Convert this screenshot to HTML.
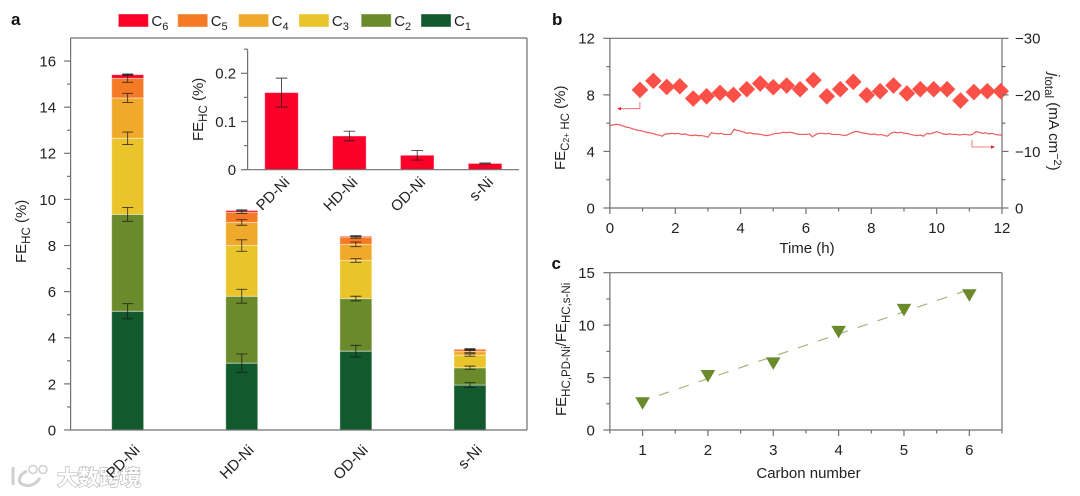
<!DOCTYPE html>
<html lang="en">
<head>
<meta charset="utf-8">
<title>Hydrocarbon Faradaic efficiency charts</title>
<style>
html,body{margin:0;padding:0;background:#fff;width:1080px;height:496px;overflow:hidden}
svg{display:block;filter:blur(0.35px)}
text{font-family:"Liberation Sans","Noto Sans CJK SC",sans-serif;fill:#222;font-size:15px}
.panel{font-weight:bold;font-size:17px;fill:#111}
.wm{font-family:"Liberation Sans","Noto Sans CJK SC",sans-serif;font-weight:bold;font-size:21px;fill:#fff;stroke:#bdbdbd;stroke-width:1.4px;paint-order:stroke}
</style>
</head>
<body>
<svg id="figure" xmlns="http://www.w3.org/2000/svg" width="1080" height="496" viewBox="0 0 1080 496">
  <g id="watermark">
    <path d="M13 467 V485" fill="none" stroke="#d0d0d0" stroke-width="3"/>
    <path d="M27 471 C18 475 17 483 24 485 C30 487 36 484 40 478" fill="none" stroke="#d0d0d0" stroke-width="3"/>
    <circle cx="33" cy="469.5" r="4" fill="none" stroke="#cfcfcf" stroke-width="1.5"/>
    <circle cx="43" cy="469.5" r="4" fill="none" stroke="#cfcfcf" stroke-width="1.5"/>
    <text class="wm" x="57" y="485">大数跨境</text>
  </g>

  <text class="panel" x="11" y="25">a</text>
  <text class="panel" x="552" y="25">b</text>
  <text class="panel" x="551.5" y="269">c</text>

  <text transform="translate(26,263) rotate(-90)">FE<tspan dy="4" font-size="11.5">HC</tspan><tspan dy="-4"> (%)</tspan></text>
  <text transform="translate(203,141) rotate(-90)">FE<tspan dy="4" font-size="11.5">HC</tspan><tspan dy="-4"> (%)</tspan></text>
  <text transform="translate(565,170) rotate(-90)">FE<tspan dy="4" font-size="11.5">C<tspan font-size="8.5">2+</tspan> HC</tspan><tspan dy="-4"> (%)</tspan></text>
  <text transform="translate(1049,73) rotate(90)"><tspan font-style="italic">j</tspan><tspan dy="4" font-size="11.5">total</tspan><tspan dy="-4"> (mA cm</tspan><tspan dy="-5" font-size="11">−2</tspan><tspan dy="5">)</tspan></text>
  <text x="807" y="253" text-anchor="middle">Time (h)</text>
  <text transform="translate(566,416) rotate(-90)">FE<tspan dy="4" font-size="11.5">HC,PD-Ni</tspan><tspan dy="-4">/FE</tspan><tspan dy="4" font-size="11.5">HC,s-Ni</tspan></text>
  <text x="808.5" y="478" text-anchor="middle" font-size="15.4">Carbon number</text>
</svg>

<script>
// Panel a: stacked bars
const catalysts = ['PD-Ni', 'HD-Ni', 'OD-Ni', 's-Ni'];
const carbonSeries = ['6', '5', '4', '3', '2', '1'];
const stackC1 = [5.15, 2.9, 3.42, 1.95];
const stackC2 = [4.2, 2.9, 2.28, 0.75];
const stackC3 = [3.3, 2.2, 1.65, 0.55];
const stackC4 = [1.75, 1.0, 0.7, 0.15];
const stackC5 = [0.85, 0.45, 0.32, 0.1];
const stackC6 = [0.16, 0.07, 0.03, 0.013];
const errC1 = [0.33, 0.4, 0.25, 0.1];
const errC2 = [0.3, 0.3, 0.1, 0.07];
const errC3 = [0.27, 0.25, 0.08, 0.05];
const errC4 = [0.2, 0.12, 0.1, 0.05];
const errC5 = [0.17, 0.06, 0.05, 0.02];
const errC6 = [0.03, 0.03, 0.02, 0.01];
const stackTicks = [0, 2, 4, 6, 8, 10, 12, 14, 16];
// Inset
const insetValues = [0.16, 0.07, 0.03, 0.013];
const insetErrors = [0.03, 0.01, 0.01, 0.001];
const insetTicks = ['0', '0.1', '0.2'];
const insetTickValues = [0, 0.1, 0.2];
// Panel b
const feHours = [0.92, 1.33, 1.74, 2.14, 2.55, 2.96, 3.37, 3.78, 4.19, 4.6, 5.0, 5.41, 5.82, 6.23, 6.64, 7.05, 7.45, 7.86, 8.27, 8.68, 9.09, 9.5, 9.91, 10.32, 10.73, 11.14, 11.55, 11.96];
const feValues = [8.35, 8.99, 8.56, 8.61, 7.74, 7.9, 8.14, 8.0, 8.4, 8.8, 8.54, 8.66, 8.4, 9.04, 7.9, 8.4, 8.92, 7.98, 8.26, 8.66, 8.1, 8.4, 8.4, 8.4, 7.6, 8.2, 8.26, 8.26];
const currentValues = [
  14.6,14.7,14.8,14.7,14.5,14.3,14.2,14.0,13.8,13.7,
  13.6,13.4,13.3,13.2,13.0,12.9,12.7,13.1,13.1,13.2,
  13.1,13.2,13.0,13.1,12.9,12.8,12.9,12.8,12.8,12.7,
  12.5,13.3,13.2,13.1,13.2,13.0,13.0,13.0,13.9,13.7,
  13.6,13.4,13.2,13.3,13.1,13.1,13.0,12.9,12.8,12.9,
  13.1,13.2,13.2,13.4,13.3,13.4,13.3,13.1,13.0,13.0,
  13.0,13.1,12.6,13.0,13.2,13.2,13.1,13.2,13.0,13.0,
  13.0,12.9,12.8,13.0,13.3,13.5,13.5,13.3,13.2,13.1,
  13.0,13.1,12.9,13.0,12.8,12.7,13.2,13.4,13.3,13.4,
  13.2,13.2,13.0,12.9,12.8,12.9,12.7,13.2,13.1,13.3,
  13.5,13.3,13.1,13.0,13.1,13.0,13.0,12.9,13.0,13.0,
  12.9,13.0,13.5,13.4,13.2,13.3,13.1,13.2,13.0,12.9,
  12.9];
const currentHourStep = 0.1;
const bTimeTicks = [0, 2, 4, 6, 8, 10, 12];
const bLeftTicks = [0, 4, 8, 12];
const bRightTicks = [0, 10, 20, 30];
const bRightLabels = ['0', '−10', '−20', '−30'];
// Panel c
const carbonNumbers = [1, 2, 3, 4, 5, 6];
const ratioValues = [2.6, 5.2, 6.4, 9.4, 11.5, 12.9];
const fitCarbon = [1.25, 6];
const fitRatio = [3.3, 13.4];
const cYTicks = [0, 5, 10, 15];

const svg = document.getElementById('figure');
const NS = 'http://www.w3.org/2000/svg';
const AXIS = '#707070';
const colors = {1:'#12592e', 2:'#6b8a2c', 3:'#e9c42a', 4:'#efaa2c', 5:'#f57a25', 6:'#fb0028'};

function make(tag, props) {
  const n = document.createElementNS(NS, tag);
  for (const k in props) n.setAttribute(k, props[k]);
  svg.appendChild(n);
  return n;
}
function line(x1, y1, x2, y2, name, width, color) {
  const n = make('line', {x1, y1, x2, y2, stroke: color || AXIS, 'stroke-width': width || 1.2});
  
  
  return n;
}
function label(x, y, str, anchor, name, rot) {
  const n = make('text', {x, y, 'text-anchor': anchor});
  if (rot) n.setAttribute('transform', 'rotate(' + rot + ' ' + x + ' ' + y + ')');
  n.textContent = str;
  
  
  return n;
}
function box(x, y, w, h, name, fill) {
  const n = make('rect', {x, y, width: w, height: h, fill, stroke: 'rgba(255,255,255,0.45)', 'stroke-width': 1});
  
  
  return n;
}
function errorBar(cx, yTop, yBot, half, name) {
  const g = make('path', {d: 'M' + (cx-half) + ' ' + yTop + 'H' + (cx+half) + 'M' + cx + ' ' + yTop + 'V' + yBot + 'M' + (cx-half) + ' ' + yBot + 'H' + (cx+half), fill: 'none', stroke: 'rgba(20,20,20,0.8)', 'stroke-width': 0.9});
  
  
  return g;
}

// Legend
const legendSwatchX = [118.4, 177.7, 238.6, 298.9, 361.2, 421];
carbonSeries.forEach((c, i) => {
  const s = make('rect', {x: legendSwatchX[i], y: 14, width: 30, height: 13, fill: colors[c], stroke: 'rgba(255,255,255,0.4)'});
  
  
  const t = make('text', {x: legendSwatchX[i] + 33, y: 26, 'font-size': 15.5});
  
  
  t.textContent = 'C';
  const sub = document.createElementNS(NS, 'tspan');
  sub.setAttribute('dy', '4');
  sub.setAttribute('font-size', '11');
  sub.textContent = c;
  t.appendChild(sub);
});

// Panel a
const aL = 70.6, aR = 527, aT = 38, aB = 430, aMax = 17;
const ay = v => aB - v / aMax * (aB - aT);
const ax = i => aL + (i + 0.5) * (aR - aL) / catalysts.length;
const stacks = [stackC1, stackC2, stackC3, stackC4, stackC5, stackC6];
const errs = [errC1, errC2, errC3, errC4, errC5, errC6];
catalysts.forEach((cat, i) => {
  let base = 0;
  const tops = [];
  stacks.forEach((s, k) => {
    const top = base + s[i];
    box(ax(i) - 16, ay(top), 32, ay(base) - ay(top), 'bar-' + cat.toLowerCase() + '-c' + (k + 1), colors[k + 1]);
    tops.push(top);
    base = top;
  });
  tops.forEach((top, k) => {
    errorBar(ax(i), ay(top + errs[k][i]), ay(top - errs[k][i]), 5.5, 'error-bar-' + cat.toLowerCase() + '-c' + (k + 1));
  });
  label(ax(i) + 13, 451, cat, 'end', 'stacked-x-label-' + cat.toLowerCase(), -45);
});
line(aL, aT, aR, aT, 'stacked-frame-top');
line(aR, aT, aR, aB, 'stacked-frame-right');
line(aL, aT, aL, aB, 'stacked-y-axis');
line(aL, aB, aR, aB, 'stacked-x-axis');
for (let v = 1; v <= 15; v += 2) {
  line(aL - 3.5, ay(v), aL, ay(v), 'stacked-y-minor-tick');
}
stackTicks.forEach(v => {
  line(aL - 6.5, ay(v), aL, ay(v), 'stacked-y-tick');
  label(aL - 14.5, ay(v) + 5.4, String(v), 'end', 'stacked-y-label-' + v);
});

// Inset
const iL = 247.6, iR = 519, iB = 169.7, iT = 49.3, iScale = 482;
const iy = v => iB - v * iScale;
const ix = i => iL + (i + 0.5) * (iR - iL) / catalysts.length;
catalysts.forEach((cat, i) => {
  box(ix(i) - 16.8, iy(insetValues[i]), 33.6, iB - iy(insetValues[i]), 'inset-bar-' + cat.toLowerCase(), colors[6]);
  errorBar(ix(i), iy(insetValues[i] + insetErrors[i]), iy(insetValues[i] - insetErrors[i]), 5.8, 'inset-error-bar-' + cat.toLowerCase());
  label(ix(i) + 9, 183, cat, 'end', 'inset-x-label-' + cat.toLowerCase(), -45);
});
line(iL, iT, iL, iB, 'inset-y-axis');
line(iL, iB, iR, iB, 'inset-x-axis');
[0.05, 0.15, 0.25].forEach(v => {
  line(iL - 3.5, iy(v), iL, iy(v), 'inset-y-minor-tick');
});
insetTickValues.forEach((v, i) => {
  line(iL - 6.5, iy(v), iL, iy(v), 'inset-y-tick');
  label(iL - 11.5, iy(v) + 5.4, insetTicks[i], 'end', 'inset-y-label-' + insetTicks[i]);
});

// Panel b
const bL = 609.9, bR = 1002, bT = 38.3, bB = 208;
const bx = t => bL + t / 12 * (bR - bL);
const byL = v => bB - v / 12 * (bB - bT);
const byR = v => bB - v / 30 * (bB - bT);
const curve = make('polyline', {
  points: currentValues.map((v, i) => bx(i * currentHourStep).toFixed(2) + ',' + byR(v).toFixed(2)).join(' '),
  fill: 'none', stroke: '#ee5b5b', 'stroke-width': 1.2
});


line(bL, bT, bR, bT, 'b-frame-top');
line(bR, bT, bR, bB, 'b-right-axis');
line(bL, bT, bL, bB, 'b-left-axis');
line(bL, bB, bR, bB, 'b-x-axis');
feValues.forEach((v, i) => {
  const cx = bx(feHours[i]), cy = byL(v), r = 8.3;
  const d = make('polygon', {
    points: cx + ',' + (cy - r) + ' ' + (cx + r) + ',' + cy + ' ' + cx + ',' + (cy + r) + ' ' + (cx - r) + ',' + cy,
    fill: '#fb5048'
  });
  
  
});
for (let t = 1; t <= 11; t += 2) {
  line(bx(t), bB, bx(t), bB + 3.5, 'b-x-minor-tick');
}
bTimeTicks.forEach(t => {
  line(bx(t), bB, bx(t), bB + 6, 'b-x-tick');
  label(bx(t), bB + 25, String(t), 'middle', 'b-x-label-' + t);
});
[2, 6, 10].forEach(v => {
  line(bL - 3.5, byL(v), bL, byL(v), 'b-left-minor-tick');
});
bLeftTicks.forEach(v => {
  line(bL - 6.5, byL(v), bL, byL(v), 'b-left-tick');
  label(bL - 15, byL(v) + 5.4, String(v), 'end', 'b-left-label-' + v);
});
[5, 15, 25].forEach(v => {
  line(bR, byR(v), bR + 3.5, byR(v), 'b-right-minor-tick');
});
bRightTicks.forEach((v, i) => {
  line(bR, byR(v), bR + 6.5, byR(v), 'b-right-tick');
  label(bR + 13, byR(v) + 5.4, bRightLabels[i], 'start', 'b-right-label-' + v);
});
const leftArrow = make('path', {d: 'M639.9 101.7V108.7H619.5', fill: 'none', stroke: '#f0595c', 'stroke-width': 0.8});


const leftHead = make('polygon', {points: '617,108.7 621,107 621,110.4', fill: '#f0202c'});


const rightArrow = make('path', {d: 'M972 140V147H992', fill: 'none', stroke: '#f0595c', 'stroke-width': 0.8});


const rightHead = make('polygon', {points: '995,147 991,145.3 991,148.7', fill: '#f0202c'});



// Panel c
const cL = 609.9, cR = 1002, cT = 272.7, cB = 430;
const cx = n => cL + (n - 0.5) / 6 * (cR - cL);
const cy = v => cB - v / 15 * (cB - cT);
line(cL, cT, cR, cT, 'c-frame-top');
line(cR, cT, cR, cB, 'c-frame-right');
line(cL, cT, cL, cB, 'c-y-axis');
line(cL, cB, cR, cB, 'c-x-axis');
const fit = make('line', {x1: cx(fitCarbon[0]), y1: cy(fitRatio[0]), x2: cx(fitCarbon[1]), y2: cy(fitRatio[1]), stroke: '#a3b57a', 'stroke-width': 1.2, 'stroke-dasharray': '10.5 10.5'});


carbonNumbers.forEach((n, i) => {
  const x = cx(n), y = cy(ratioValues[i]);
  const t = make('polygon', {
    points: (x - 7.3) + ',' + (y - 5.5) + ' ' + (x + 7.3) + ',' + (y - 5.5) + ' ' + x + ',' + (y + 7),
    fill: '#6b8a2c'
  });
  
  
  line(x, cB, x, cB + 6, 'c-x-tick');
  label(x, cB + 25, String(n), 'middle', 'c-x-label-' + n);
});
[0.5, 1.5, 2.5, 3.5, 4.5, 5.5, 6.5].forEach(n => {
  line(cx(n), cB, cx(n), cB + 3.5, 'c-x-minor-tick');
});
[2.5, 7.5, 12.5].forEach(v => {
  line(cL - 3.5, cy(v), cL, cy(v), 'c-y-minor-tick');
});
cYTicks.forEach(v => {
  line(cL - 6.5, cy(v), cL, cy(v), 'c-y-tick');
  label(cL - 15, cy(v) + 5.4, String(v), 'end', 'c-y-label-' + v);
});
</script>
</body>
</html>
